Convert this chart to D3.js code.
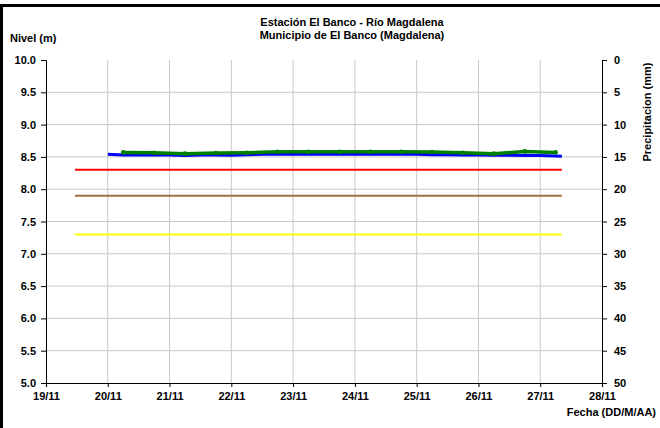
<!DOCTYPE html>
<html><head><meta charset="utf-8">
<script src="https://cdn.jsdelivr.net/npm/d3@7"></script>
<style>body{margin:0;background:#fff}svg{display:block;font-family:"Liberation Sans",Arial,sans-serif;font-weight:bold}</style>
</head><body><svg id="c" width="660" height="428"></svg>
<script>
// Days of November (fractional = time of day)
const dayTicks = [19,20,21,22,23,24,25,26,27,28];
const levelTicks = [5.0,5.5,6.0,6.5,7.0,7.5,8.0,8.5,9.0,9.5,10.0];
const precipTicks = [0,5,10,15,20,25,30,35,40,45,50];

// Blue series (level, dense readings)
const blueDays = [20.0,20.25,20.5,20.75,21.0,21.25,21.5,21.75,22.0,22.25,22.5,22.75,23.0,23.25,23.5,23.75,24.0,24.25,24.5,24.75,25.0,25.25,25.5,25.75,26.0,26.25,26.5,26.75,27.0,27.25,27.35];
const blueVals = [8.54,8.53,8.53,8.53,8.53,8.52,8.53,8.53,8.525,8.535,8.54,8.54,8.54,8.54,8.54,8.54,8.54,8.54,8.54,8.54,8.54,8.535,8.535,8.53,8.53,8.525,8.525,8.52,8.52,8.515,8.51];

// Green series (level, 2 readings per day)
const greenDays = [20.25,20.75,21.25,21.75,22.25,22.75,23.25,23.75,24.25,24.75,25.25,25.75,26.25,26.75,27.25];
const greenVals = [8.57,8.565,8.55,8.56,8.565,8.58,8.58,8.58,8.58,8.58,8.575,8.565,8.55,8.585,8.57];

// Threshold lines
const thrVals = [8.3,7.9,7.3];
const thrColors = ["#ff0000","#a0703c","#ffff00"];
const thrStart = 19.47, thrEnd = 27.35;

const svg = d3.select("#c");
const L=46,R=602,T=60,B=383;
const x = d3.scaleLinear().domain([19,28]).range([L,R]);
const y = d3.scaleLinear().domain([5,10]).range([B,T]);
const y2 = d3.scaleLinear().domain([0,50]).range([T,B]);

// outer border
svg.append("path").attr("d","M1.5,440 V5.5 H670").attr("fill","none").attr("stroke","#000").attr("stroke-width",3);

// grid
svg.append("g").selectAll("line").data(levelTicks.slice(1,-1)).join("line")
  .attr("x1",L).attr("x2",R).attr("y1",d=>y(d)).attr("y2",d=>y(d)).attr("stroke","#c8c8c8");
svg.append("g").selectAll("line").data(dayTicks.slice(1,-1)).join("line")
  .attr("y1",T).attr("y2",B).attr("x1",d=>x(d)).attr("x2",d=>x(d)).attr("stroke","#c8c8c8");

// thresholds
svg.append("g").selectAll("line").data(thrVals).join("line")
  .attr("x1",x(thrStart)).attr("x2",x(thrEnd)).attr("y1",d=>y(d)).attr("y2",d=>y(d))
  .attr("stroke",(d,i)=>thrColors[i]).attr("stroke-width",2);

// series
const line = d3.line().x(d=>x(d[0])).y(d=>y(d[1]));
svg.append("path").datum(d3.zip(blueDays,blueVals)).attr("d",line).attr("fill","none").attr("stroke","#0000ff").attr("stroke-width",3);
const g = d3.zip(greenDays,greenVals);
svg.append("path").datum(g).attr("d",line).attr("fill","none").attr("stroke","#008000").attr("stroke-width",3.5);
svg.append("g").selectAll("circle").data(g).join("circle").attr("cx",d=>x(d[0])).attr("cy",d=>y(d[1])).attr("r",2.3).attr("fill","#008000");

// axes
const fs = "11px";
const ax = svg.append("g").attr("transform",`translate(${L},0)`).call(d3.axisLeft(y).tickValues(levelTicks).tickFormat(d3.format(".1f")).tickSize(5).tickPadding(5));
const ar = svg.append("g").attr("transform",`translate(${R},0)`).call(d3.axisRight(y2).tickValues(precipTicks).tickSize(5).tickPadding(7));
const ab = svg.append("g").attr("transform",`translate(0,${B})`).call(d3.axisBottom(x).tickValues(dayTicks).tickFormat(d=>d+"/11").tickSize(4).tickPadding(5));
[ax,ar,ab].forEach(a=>{a.selectAll("text").attr("font-size",fs).attr("font-family","Liberation Sans, Arial").attr("font-weight","bold").attr("fill","#000");
  a.selectAll("path,line").attr("stroke","#000");});
ab.selectAll("path").attr("stroke-width",1.2);

// texts
svg.append("text").attr("x",352).attr("y",26).attr("text-anchor","middle").attr("font-size",fs).text("Estación El Banco - Río Magdalena");
svg.append("text").attr("x",352).attr("y",39).attr("text-anchor","middle").attr("font-size",fs).text("Municipio de El Banco (Magdalena)");
svg.append("text").attr("x",10).attr("y",42).attr("font-size",fs).text("Nivel (m)");
svg.append("text").attr("x",656).attr("y",416).attr("text-anchor","end").attr("font-size",fs).text("Fecha (DD/M/AA)");
svg.append("text").attr("transform","translate(651,112) rotate(-90)").attr("text-anchor","middle").attr("font-size",fs).text("Precipitacion (mm)");
</script></body></html>
